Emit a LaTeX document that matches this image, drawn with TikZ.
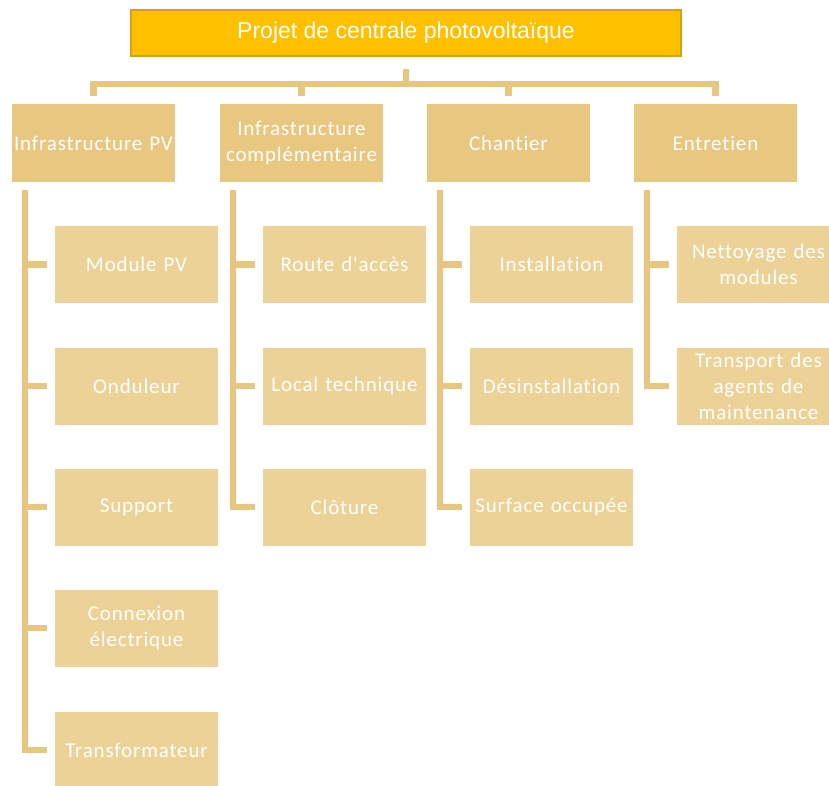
\documentclass[tikz,border=0pt]{standalone}
\usepackage{fontspec}
\newfontfamily\boxfont{Carlito}[Ligatures=NoCommon]
\newfontfamily\topfont{Liberation Sans}
\usetikzlibrary{calc}
\definecolor{topfill}{RGB}{255,192,0}
\definecolor{topdraw}{RGB}{214,160,30}
\definecolor{lvlone}{RGB}{232,199,128}
\definecolor{lvltwo}{RGB}{236,210,150}
\definecolor{connc}{RGB}{231,199,128}
\begin{document}
\begin{tikzpicture}[x=1pt,y=-1pt,
 topbox/.style={draw=topdraw,line width=1.5pt,fill=topfill,minimum width=550pt,minimum height=46pt,inner sep=0pt,text=white,font=\topfont\fontsize{23}{27}\selectfont},
 catbox/.style={fill=lvlone,minimum width=163pt,minimum height=78pt,inner sep=0pt,text width=163pt,align=center,text=white,font=\boxfont\fontsize{21}{26}\selectfont\addfontfeature{LetterSpace=4}},
 itembox/.style={catbox,fill=lvltwo,minimum height=77pt},
 link/.style={draw=connc,line width=6.5pt}]
\useasboundingbox (0,0) rectangle (829,785);
\clip (0,0) rectangle (829,785);

\node[topbox] (top) at (406,33) {Projet de centrale photovoltaïque};

\node[catbox] (c1) at (93.5,143) {Infrastructure PV};
\node[catbox] (c2) at (301.5,143) {Infrastructure\\complémentaire};
\node[catbox] (c3) at (508.5,143) {Chantier};
\node[catbox] (c4) at (715.5,143) {Entretien};

\node[itembox] (i11) at (136.5,264.5) {Module PV};
\node[itembox] (i12) at (136.5,386) {Onduleur};
\node[itembox] (i13) at (136.5,507) {Support};
\node[itembox] (i14) at (136.5,628) {Connexion\\électrique};
\node[itembox] (i15) at (136.5,750) {Transformateur};

\node[itembox] (i21) at (344.5,264.5) {Route d'accès};
\node[itembox] (i22) at (344.5,386) {Local technique};
\node[itembox] (i23) at (344.5,507) {Clôture};

\node[itembox] (i31) at (551.5,264.5) {Installation};
\node[itembox] (i32) at (551.5,386) {Désinstallation};
\node[itembox] (i33) at (551.5,507) {Surface occupée};

\node[itembox] (i41) at (758.5,264.5) {Nettoyage des\\modules};
\node[itembox] (i42) at (758.5,386) {Transport des\\agents de\\maintenance};

% bus
\coordinate (bus) at (0,84);
\draw[link] ($(top.south)+(0,12)$) -- (top.south |- bus);
\draw[link,line cap=rect] (c1.north |- bus) -- (c4.north |- bus);
\foreach \c in {c1,c2,c3,c4}
  \draw[link] (\c.north |- bus) -- ($(\c.north)+(0,-8)$);

% column spines
\coordinate (v1) at ($(c1.south west)+(13,8)$);
\coordinate (v2) at ($(c2.south west)+(13,8)$);
\coordinate (v3) at ($(c3.south west)+(13,8)$);
\coordinate (v4) at ($(c4.south west)+(13,8)$);

\draw[link] (v1) |- ($(i15.west)+(-8,0)$);
\foreach \i in {i11,i12,i13,i14}
  \draw[link] (v1 |- \i.west) -- ($(\i.west)+(-8,0)$);

\draw[link] (v2) |- ($(i23.west)+(-8,0)$);
\foreach \i in {i21,i22}
  \draw[link] (v2 |- \i.west) -- ($(\i.west)+(-8,0)$);

\draw[link] (v3) |- ($(i33.west)+(-8,0)$);
\foreach \i in {i31,i32}
  \draw[link] (v3 |- \i.west) -- ($(\i.west)+(-8,0)$);

\draw[link] (v4) |- ($(i42.west)+(-8,0)$);
\draw[link] (v4 |- i41.west) -- ($(i41.west)+(-8,0)$);
\end{tikzpicture}
\end{document}
